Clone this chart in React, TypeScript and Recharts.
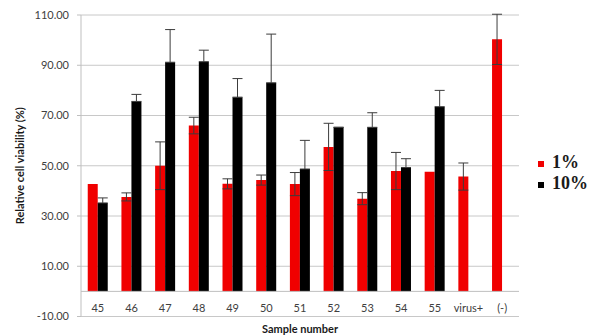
import React from 'react';
import { BarChart, Bar, XAxis, YAxis, CartesianGrid, ErrorBar, ReferenceLine } from 'recharts';

const categories = ['45', '46', '47', '48', '49', '50', '51', '52', '53', '54', '55', 'virus+', '(-)'];
const pct1 = [42.7, 37.6, 50, 66, 42.8, 44.3, 42.7, 57.5, 36.9, 47.9, 47.6, 45.7, 100.3];
const err1 = [0, 1.6, 9.5, 3.3, 2, 2, 4.6, 9.4, 2.4, 7.4, 0, 5.4, 10];
const pct10 = [35.2, 75.6, 91.2, 91.4, 77.3, 83, 48.7, 65.3, 65.3, 49.3, 73.5, null, null];
const err10 = [2, 2.8, 13, 4.6, 7.4, 19.4, 11.4, 0, 5.8, 3.5, 6.5, null, null];
const yTicks = [-10, 10, 30, 50, 70, 90, 110];
const seriesNames = ['1%', '10%'];
const seriesColors = ['#f00000', '#000000'];

// lower half of the black bars' error bars is hidden inside the black bar in the reference
const data = categories.map((c, i) => ({
  name: c,
  p1: pct1[i],
  e1: err1[i],
  p10: pct10[i],
  e10: err10[i] == null ? null : [0, err10[i]],
}));

const FONT = 'Lato, "Open Sans", sans-serif';

const XTick = (props: any) => {
  const { x, y, payload } = props;
  return (
    <text x={x} y={y} dy={-5} textAnchor="middle" fontSize={11} fill="#404040" fontFamily={FONT}>
      {payload.value}
    </text>
  );
};

export default function App() {
  return (
    <div style={{ position: 'absolute', left: 0, top: 0, width: 597, height: 336, background: '#fff' }}>
      <BarChart
        width={597}
        height={336}
        data={data}
        margin={{ top: 15, right: 78, bottom: 0, left: 0 }}
        barCategoryGap="20%"
        barGap={0}
      >
        <CartesianGrid vertical={false} stroke="#c8c8c8" />
        <XAxis
          dataKey="name"
          height={19.5}
          axisLine={false}
          tickLine={false}
          tickSize={0}
          tickMargin={0}
          interval={0}
          tick={<XTick />}
          label={{ value: 'Sample number', position: 'insideBottom', offset: 3, fontSize: 11, fontWeight: 'bold', fill: '#1a1a1a', fontFamily: FONT }}
        />
        <YAxis
          width={81}
          domain={[-10, 110]}
          ticks={yTicks}
          type="number"
          allowDataOverflow
          tickSize={4}
          tickMargin={8}
          axisLine={{ stroke: '#bfbfbf' }}
          tickLine={{ stroke: '#bfbfbf' }}
          tick={{ fontSize: 11, fill: '#404040', fontFamily: FONT }}
          tickFormatter={(v: number) => v.toFixed(2)}
          label={{
            value: 'Relative cell viability (%)',
            angle: -90,
            position: 'insideLeft',
            offset: 20,
            style: { textAnchor: 'middle' },
            fontSize: 11,
            fontWeight: 'bold',
            fill: '#1a1a1a',
            fontFamily: FONT,
          }}
        />
        <ReferenceLine y={0} stroke="#bfbfbf" />
        <Bar dataKey="p1" name={seriesNames[0]} fill={seriesColors[0]} isAnimationActive={false}>
          <ErrorBar dataKey="e1" width={5} stroke="#3c3c3c" strokeWidth={1} direction="y" />
        </Bar>
        <Bar dataKey="p10" name={seriesNames[1]} fill={seriesColors[1]} isAnimationActive={false}>
          <ErrorBar dataKey="e10" width={5} stroke="#3c3c3c" strokeWidth={1} direction="y" />
        </Bar>
      </BarChart>
      <div
        style={{
          position: 'absolute',
          left: 538,
          top: 152,
          fontFamily: '"Liberation Serif", "DejaVu Serif", serif',
          fontWeight: 'bold',
          fontSize: 18,
          lineHeight: '21px',
        }}
      >
        {seriesNames.map((n, i) => (
          <div key={n} style={{ display: 'flex', alignItems: 'center' }}>
            <span style={{ display: 'inline-block', width: 6, height: 6, background: seriesColors[i], marginRight: 8, marginTop: 3 }} />
            <span style={{ color: '#1a1a1a' }}>{n}</span>
          </div>
        ))}
      </div>
    </div>
  );
}
